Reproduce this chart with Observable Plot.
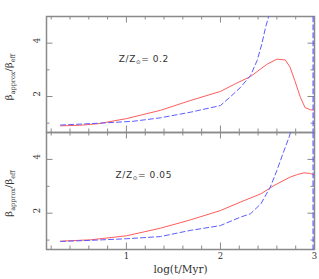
<!DOCTYPE html>
<html><head><meta charset="utf-8">
<script src="https://cdn.jsdelivr.net/npm/d3@7"></script>
<script src="https://cdn.jsdelivr.net/npm/@observablehq/plot@0.6"></script>
<style>
html,body{margin:0;padding:0;background:#fff;}
#chart{position:relative;width:319px;height:279px;}
#chart svg{position:absolute;left:0;overflow:visible;background:transparent;}
</style></head><body><div id="chart"></div>
<script>
// ---- data ----
const panelLabels = ["0.2", "0.05"];

const red02X  = [0.3, 0.5, 0.7, 1.0, 1.36, 1.68, 2.0, 2.16, 2.32, 2.43, 2.5, 2.6, 2.69, 2.74, 2.79, 2.85, 2.9, 2.96, 3.0];
const red02Y  = [0.9, 0.92, 0.98, 1.17, 1.48, 1.85, 2.19, 2.48, 2.75, 3.04, 3.22, 3.4, 3.37, 3.1, 2.6, 1.97, 1.58, 1.5, 1.5];
const blue02X = [0.3, 0.72, 1.07, 1.36, 1.68, 2.0, 2.1, 2.21, 2.32, 2.39, 2.44, 2.48, 2.51, 2.55];
const blue02Y = [0.93, 1.0, 1.07, 1.2, 1.41, 1.66, 1.97, 2.33, 2.79, 3.35, 3.97, 4.6, 4.97, 5.6];
const blue02EdgeX = [2.985, 2.985];
const blue02EdgeY = [4.99, 0.66];

const red005X  = [0.3, 0.62, 1.0, 1.36, 1.68, 2.0, 2.21, 2.43, 2.57, 2.74, 2.82, 2.89, 2.95, 2.99];
const red005Y  = [0.96, 1.01, 1.16, 1.44, 1.75, 2.10, 2.41, 2.72, 3.03, 3.34, 3.44, 3.5, 3.48, 3.43];
const blue005X = [0.3, 0.62, 1.0, 1.36, 1.68, 2.0, 2.21, 2.32, 2.43, 2.53, 2.6, 2.67, 2.73, 2.77];
const blue005Y = [0.95, 0.99, 1.05, 1.13, 1.36, 1.54, 1.85, 1.98, 2.35, 2.97, 3.59, 4.27, 4.83, 5.3];
const blue005EdgeX = [2.985, 2.985];
const blue005EdgeY = [4.99, 0.66];

const xDomain = [0.15, 3];
const yDomain = [0.65, 5];
const xMajor = [1, 2, 3];
const xMinor = [0.2, 0.4, 0.6, 0.8, 1.2, 1.4, 1.6, 1.8, 2.2, 2.4, 2.6, 2.8];
const yMajor = [2, 4];
const yMinor = [1, 3];
const annotX = 1.19, annotY = 3.4;
const xLabel = "log(t/Myr)";

// ---- styles ----
const RED = "#ff5c5c", BLUE = "#5c5cff", FRAME = "#8a8a8a", TEXT = "#333";
const SERIF = "DejaVu Serif, Liberation Serif, serif";
const SANS = "DejaVu Sans, sans-serif";
const W = 319, ML = 46, MR = 5;
const PW = W - ML - MR;

const pts = (xs, ys) => xs.map((x, i) => ({x, y: ys[i]}));

function panel({red, blue, edge, height, marginTop, marginBottom, showX}) {
  const H = height - marginTop - marginBottom;
  const tickStyle = {stroke: FRAME, strokeWidth: 1};
  const marks = [
    Plot.frame({stroke: FRAME, strokeWidth: 1.5}),
    // inward ticks
    Plot.ruleX(xMinor, {x: d => d, insetTop: H - 3.5, ...tickStyle}),
    Plot.ruleX(xMajor, {x: d => d, insetTop: H - 6.5, ...tickStyle}),
    Plot.ruleX(xMinor, {x: d => d, insetBottom: H - 3.5, ...tickStyle}),
    Plot.ruleX(xMajor, {x: d => d, insetBottom: H - 6.5, ...tickStyle}),
    Plot.ruleY(yMinor, {y: d => d, insetRight: PW - 3.5, ...tickStyle}),
    Plot.ruleY(yMajor, {y: d => d, insetRight: PW - 6.5, ...tickStyle}),
    Plot.ruleY(yMinor, {y: d => d, insetLeft: PW - 3.5, ...tickStyle}),
    Plot.ruleY(yMajor, {y: d => d, insetLeft: PW - 6.5, ...tickStyle}),
    Plot.line(red, {x: "x", y: "y", stroke: RED, strokeWidth: 1, clip: true}),
    Plot.line(blue, {x: "x", y: "y", stroke: BLUE, strokeWidth: 1, strokeDasharray: "5,3", clip: true}),
    Plot.line(edge, {x: "x", y: "y", stroke: BLUE, strokeWidth: 1.2, strokeDasharray: "5,3"}),
    Plot.text(yMajor, {y: d => d, frameAnchor: "left", dx: -9, rotate: -90, text: d => String(d),
      fontSize: 8.5, fontFamily: SERIF, fill: TEXT})
  ];
  if (showX) {
    marks.push(Plot.text(xMajor, {x: d => d, frameAnchor: "bottom", dy: 9.5, text: d => String(d),
      fontSize: 8.5, fontFamily: SERIF, fill: TEXT}));
    marks.push(Plot.text([xLabel], {frameAnchor: "bottom", dy: 23.5, text: d => d,
      fontSize: 10.5, fontFamily: SERIF, fill: TEXT}));
  }
  return Plot.plot({
    width: W, height, marginTop, marginBottom, marginLeft: ML, marginRight: MR,
    x: {domain: xDomain, axis: null},
    y: {domain: yDomain, axis: null},
    style: {background: "transparent", overflow: "visible"},
    marks
  });
}

const container = document.getElementById("chart");
const cfg = [
  {red: pts(red02X, red02Y), blue: pts(blue02X, blue02Y), edge: pts(blue02EdgeX, blue02EdgeY),
   height: 132, marginTop: 16, marginBottom: 0, showX: false, top: 0, label: panelLabels[0]},
  {red: pts(red005X, red005Y), blue: pts(blue005X, blue005Y), edge: pts(blue005EdgeX, blue005EdgeY),
   height: 147, marginTop: 0, marginBottom: 30, showX: true, top: 132, label: panelLabels[1]}
];

for (const c of cfg) {
  const svgNode = panel(c);
  svgNode.style.top = c.top + "px";
  container.appendChild(svgNode);
  const svg = d3.select(svgNode);
  let sx, sy;
  try { const X = svgNode.scale("x"), Y = svgNode.scale("y"); sx = X.apply; sy = Y.apply; } catch (e) {}
  if (!sx || !sy) {
    sx = d3.scaleLinear(xDomain, [ML, W - MR]);
    sy = d3.scaleLinear(yDomain, [c.height - c.marginBottom, c.marginTop]);
  }
  // annotation Z/Z_sun = value
  const t = svg.append("text")
    .attr("x", sx(annotX)).attr("y", sy(annotY))
    .attr("dy", "0.35em")
    .attr("font-family", SANS).attr("font-size", 9).attr("letter-spacing", 0.6)
    .attr("fill", TEXT);
  t.append("tspan").text("Z/Z");
  t.append("tspan").attr("font-size", 5.5).attr("dy", 2).text("\u2299");
  t.append("tspan").attr("dy", -2).text("= " + c.label);
  // y label
  const cy = (c.marginTop + c.height - c.marginBottom) / 2 + 3;
  const yl = svg.append("text")
    .attr("transform", `translate(12,${cy}) rotate(-90)`)
    .attr("text-anchor", "middle")
    .attr("font-family", SERIF).attr("font-size", 10).attr("fill", TEXT);
  yl.append("tspan").text("\u03b2");
  yl.append("tspan").attr("font-size", 6.5).attr("dy", 2.5).text("approx");
  yl.append("tspan").attr("dy", -2.5).text("/\u03b2");
  yl.append("tspan").attr("font-size", 6.5).attr("dy", 2.5).text("eff");
}
</script></body></html>
